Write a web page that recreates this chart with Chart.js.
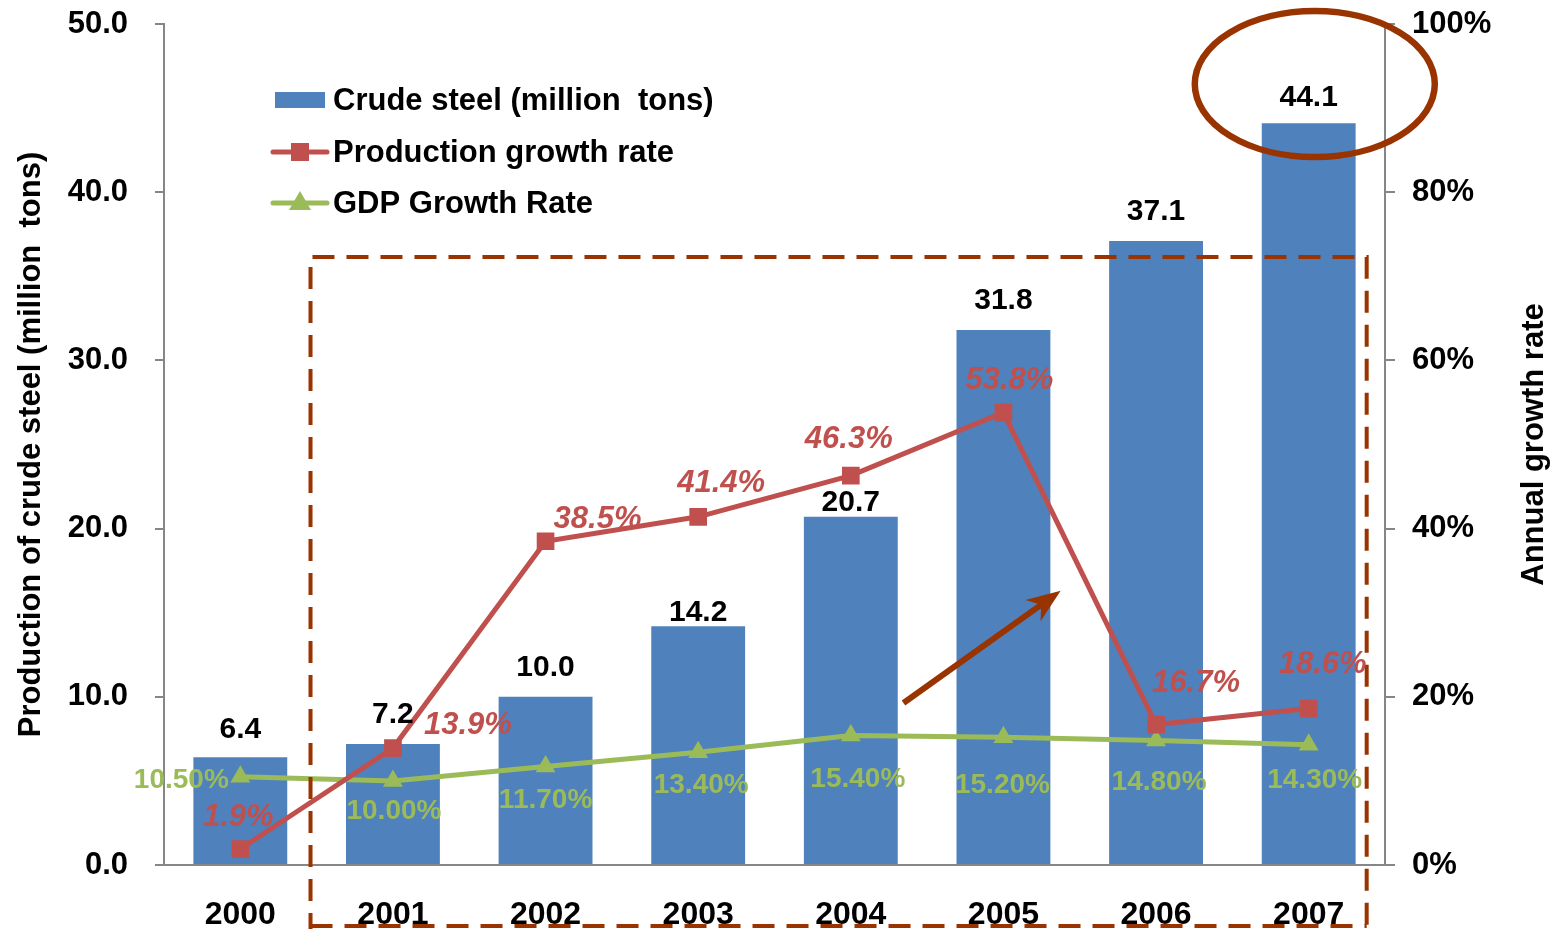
<!DOCTYPE html>
<html>
<head>
<meta charset="utf-8">
<script src="https://cdn.jsdelivr.net/npm/chart.js@4.4.1/dist/chart.umd.min.js"></script>
<style>
  html,body{margin:0;padding:0;background:#fff;}
  #wrap{width:1556px;height:929px;}
</style>
</head>
<body>
<div id="wrap"><canvas id="c" width="1556" height="929"></canvas></div>
<script>
// ---- data ----
const categories = ['2000','2001','2002','2003','2004','2005','2006','2007'];
const steelOutput = [6.4, 7.2, 10.0, 14.2, 20.7, 31.8, 37.1, 44.1];
const productionGrowth = [1.9, 13.9, 38.5, 41.4, 46.3, 53.8, 16.7, 18.6];
const gdpGrowth = [10.5, 10.0, 11.7, 13.4, 15.4, 15.2, 14.8, 14.3];
const leftTicks = [0, 10, 20, 30, 40, 50];
const rightTicks = [0, 20, 40, 60, 80, 100];
const seriesNames = ['Crude steel (million  tons)', 'Production growth rate', 'GDP Growth Rate'];
const leftTitle = 'Production of crude steel (million  tons)';
const rightTitle = 'Annual growth rate';

// ---- label placement (styling) ----
const barLabelDy = [-28, -29, -29, -13, -14, -29, -29, -26];
const redLabelOff = [[-2,-32],[75,-23],[52,-22],[23,-33],[-2,-36],[6,-32],[40,-41],[14,-44]];
const greenLabelOff = [[-59,4],[1,30],[0,34],[3,33],[7,44],[-1,48],[3,42],[6,36]];

const BLUE = '#4F81BD', RED = '#C0504D', GREEN = '#9BBB59', BROWN = '#993300', AXIS = '#868686';
const FONT = '"Liberation Sans", Arial, sans-serif';
const TICK_SIZE = 31;
const PLOT_TOP = 24;

const fixTop = {
  id: 'fixTop',
  afterLayout(chart) {
    const ca = chart.chartArea;
    ca.top = PLOT_TOP; ca.height = ca.bottom - ca.top;
    ['y', 'y1'].forEach(id => {
      const s = chart.scales[id];
      s.top = PLOT_TOP; s.height = s.bottom - s.top; s.configure();
    });
  }
};

const overlay = {
  id: 'overlay',
  afterDatasetsDraw(chart) {
    const ctx = chart.ctx;
    const xs = chart.scales.x, yl = chart.scales.y;
    const x0 = xs.getPixelForValue(0), step = xs.getPixelForValue(1) - x0;
    const px = i => x0 + i * step;
    ctx.save();
    // dashed box
    ctx.strokeStyle = BROWN; ctx.lineWidth = 4; ctx.setLineDash([22, 12]);
    const bx1 = px(0.46), bx2 = px(7.38), by1 = yl.getPixelForValue(36.15);
    ctx.beginPath();
    ctx.moveTo(bx1, 935); ctx.lineTo(bx1, by1); ctx.lineTo(bx2, by1); ctx.lineTo(bx2, 935);
    ctx.stroke();
    ctx.beginPath();
    ctx.moveTo(bx1, 926); ctx.lineTo(bx2, 926);
    ctx.stroke(); ctx.setLineDash([]);
    // ellipse
    ctx.lineWidth = 6.5;
    ctx.beginPath();
    ctx.ellipse(px(7.04), yl.getPixelForValue(46.43), 120, 73, 0, 0, Math.PI * 2);
    ctx.stroke();
    // arrow
    const ax1 = px(4.345), ay1 = yl.getPixelForValue(9.63);
    const ax2 = px(5.375), ay2 = yl.getPixelForValue(16.3);
    const ang = Math.atan2(ay2 - ay1, ax2 - ax1);
    const c = Math.cos(ang), s = Math.sin(ang);
    ctx.lineWidth = 6;
    ctx.beginPath();
    ctx.moveTo(ax1, ay1);
    ctx.lineTo(ax2 - 22 * c, ay2 - 22 * s);
    ctx.stroke();
    ctx.fillStyle = BROWN;
    ctx.beginPath();
    ctx.moveTo(ax2, ay2);
    ctx.lineTo(ax2 - 34 * c + 13 * s, ay2 - 34 * s - 13 * c);
    ctx.lineTo(ax2 - 24 * c, ay2 - 24 * s);
    ctx.lineTo(ax2 - 34 * c - 13 * s, ay2 - 34 * s + 13 * c);
    ctx.closePath();
    ctx.fill();

    // data labels
    ctx.textAlign = 'center'; ctx.textBaseline = 'middle';
    const barMeta = chart.getDatasetMeta(0), redMeta = chart.getDatasetMeta(1), grnMeta = chart.getDatasetMeta(2);
    ctx.font = 'bold 30px ' + FONT; ctx.fillStyle = '#000';
    barMeta.data.forEach((b, i) => ctx.fillText(steelOutput[i].toFixed(1), b.x, b.y + barLabelDy[i]));
    ctx.font = 'italic bold 31px ' + FONT; ctx.fillStyle = RED;
    redMeta.data.forEach((p, i) => ctx.fillText(productionGrowth[i].toFixed(1) + '%', p.x + redLabelOff[i][0], p.y + redLabelOff[i][1]));
    ctx.font = 'bold 28px ' + FONT; ctx.fillStyle = GREEN;
    grnMeta.data.forEach((p, i) => ctx.fillText(gdpGrowth[i].toFixed(2) + '%', p.x + greenLabelOff[i][0], p.y + greenLabelOff[i][1]));

    // legend
    ctx.textAlign = 'left';
    const lx = 275, ly = [100, 152, 203];
    ctx.fillStyle = BLUE; ctx.fillRect(lx, ly[0] - 8, 50, 16);
    ctx.strokeStyle = RED; ctx.lineWidth = 5; ctx.lineCap = 'round';
    ctx.beginPath(); ctx.moveTo(lx - 2, ly[1]); ctx.lineTo(lx + 52, ly[1]); ctx.stroke();
    ctx.fillStyle = RED; ctx.fillRect(lx + 16, ly[1] - 9, 18, 18);
    ctx.strokeStyle = GREEN;
    ctx.beginPath(); ctx.moveTo(lx - 2, ly[2]); ctx.lineTo(lx + 52, ly[2]); ctx.stroke();
    ctx.fillStyle = GREEN;
    ctx.beginPath(); ctx.moveTo(lx + 25, ly[2] - 12); ctx.lineTo(lx + 36, ly[2] + 7); ctx.lineTo(lx + 14, ly[2] + 7); ctx.closePath(); ctx.fill();
    ctx.font = 'bold 31px ' + FONT; ctx.fillStyle = '#000';
    seriesNames.forEach((n, i) => ctx.fillText(n, 333, ly[i] + 1));

    // axis titles
    ctx.font = 'bold 31px ' + FONT; ctx.textAlign = 'center';
    const midY = (yl.top + yl.bottom) / 2;
    ctx.translate(31, midY); ctx.rotate(-Math.PI / 2); ctx.fillText(leftTitle, 0, 0);
    ctx.setTransform(1, 0, 0, 1, 0, 0);
    ctx.translate(1534, midY); ctx.rotate(-Math.PI / 2); ctx.fillText(rightTitle, 0, 0);
    ctx.restore();
  }
};

new Chart(document.getElementById('c'), {
  data: {
    labels: categories,
    datasets: [
      { type: 'bar', label: seriesNames[0], data: steelOutput, yAxisID: 'y', backgroundColor: BLUE,
        barPercentage: 0.615, categoryPercentage: 1.0, order: 3 },
      { type: 'line', label: seriesNames[1], data: productionGrowth, yAxisID: 'y1', borderColor: RED, backgroundColor: RED,
        borderWidth: 5, pointStyle: 'rect', pointRadius: 12.5, pointBorderWidth: 0, tension: 0, order: 1 },
      { type: 'line', label: seriesNames[2], data: gdpGrowth, yAxisID: 'y1', borderColor: GREEN, backgroundColor: GREEN,
        borderWidth: 5, pointStyle: 'triangle', pointRadius: 11.5, pointBorderWidth: 0, tension: 0, order: 2 }
    ]
  },
  options: {
    responsive: false, animation: false, devicePixelRatio: 1,
    layout: { padding: { top: 5, left: 0, right: 0, bottom: 0 } },
    plugins: { legend: { display: false }, tooltip: { enabled: false } },
    scales: {
      x: {
        grid: { display: false, drawTicks: false },
        border: { display: true, color: AXIS, width: 2 },
        ticks: { color: '#000', font: { family: FONT, size: 32, weight: 'bold' }, padding: 31, maxRotation: 0 },
        afterFit(s) { s.height = 64; }
      },
      y: {
        position: 'left', min: 0, max: 50,
        afterBuildTicks(s) { s.ticks = leftTicks.map(v => ({ value: v })); },
        grid: { drawOnChartArea: false, drawTicks: true, tickLength: 9, color: AXIS, lineWidth: 2 },
        border: { display: true, color: AXIS, width: 2 },
        ticks: { color: '#000', font: { family: FONT, size: TICK_SIZE, weight: 'bold' }, padding: 27,
          callback: v => Number(v).toFixed(1) },
        afterFit(s) { s.width = 164; }
      },
      y1: {
        position: 'right', min: 0, max: 100,
        afterBuildTicks(s) { s.ticks = rightTicks.map(v => ({ value: v })); },
        grid: { drawOnChartArea: false, drawTicks: true, tickLength: 10, color: AXIS, lineWidth: 2 },
        border: { display: true, color: AXIS, width: 2 },
        ticks: { color: '#000', font: { family: FONT, size: TICK_SIZE, weight: 'bold' }, padding: 17,
          callback: v => v + '%' },
        afterFit(s) { s.width = 171; }
      }
    }
  },
  plugins: [fixTop, overlay]
});
</script>
</body>
</html>
